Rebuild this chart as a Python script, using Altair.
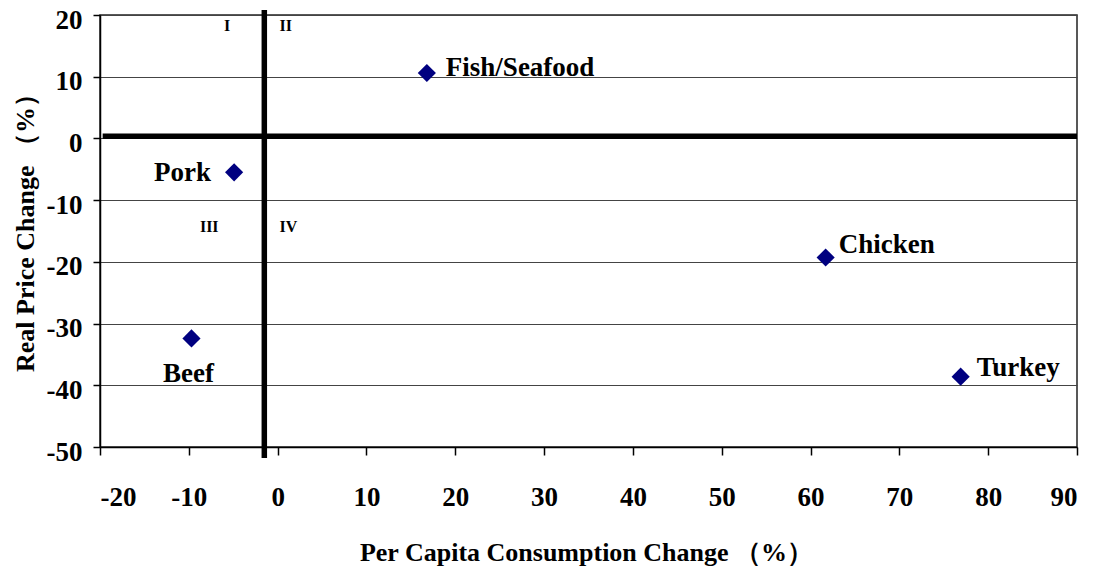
import altair as alt
import pandas as pd

# ---- data ----
foods = ["Fish/Seafood", "Pork", "Beef", "Chicken", "Turkey"]
consumption_change = [16.8, -4.9, -9.7, 61.7, 76.9]
price_change = [10.6, -5.5, -32.4, -19.3, -38.6]

quadrant_labels = ["I", "II", "III", "IV"]
quadrant_x = [-5.7, 0.9, -7.7, 1.2]
quadrant_y = [18.2, 18.2, -14.4, -14.4]

x_ticks = [-20, -10, 0, 10, 20, 30, 40, 50, 60, 70, 80, 90]
y_ticks = [-50, -40, -30, -20, -10, 0, 10, 20]

# dividing lines (drawn in the chart as thick black lines)
vline_x = [-1.5]
vline_y = [20.8]
vline_y2 = [-51.8]
hline_y = [0.35]
hline_x = [-19.7]
hline_x2 = [90]

FONT = "Liberation Serif"

df = pd.DataFrame({"food": foods, "x": consumption_change, "y": price_change})
qdf = pd.DataFrame({"q": quadrant_labels, "x": quadrant_x, "y": quadrant_y})
vdf = pd.DataFrame({"x": vline_x, "y": vline_y, "y2": vline_y2})
hdf = pd.DataFrame({"x": hline_x, "x2": hline_x2, "y": hline_y})

xscale = alt.Scale(domain=[-20, 90], nice=False, zero=False)
yscale = alt.Scale(domain=[-50, 20], nice=False, zero=False)

x_enc = alt.X(
    "x:Q",
    scale=xscale,
    axis=alt.Axis(
        values=x_ticks,
        labelExpr="datum.value + ''",
        grid=False,
        tickSize=8,
        labelPadding=29,
        title="Per Capita Consumption Change （%）",
        titleX=486,
        titleY=105,
        titleAlign="center",
        titleBaseline="middle",
    ),
)
y_enc = alt.Y(
    "y:Q",
    scale=yscale,
    axis=alt.Axis(
        values=y_ticks,
        labelExpr="datum.value + ''",
        grid=True,
        gridColor="#444444",
        gridWidth=1,
        tickSize=7,
        labelPadding=11,
        labelOffset=5,
        title="Real Price Change （%）",
        titleX=-75,
        titleY=211,
        titleAngle=270,
        titleAlign="center",
        titleBaseline="middle",
    ),
)

points = alt.Chart(df).mark_point(
    shape="diamond", filled=True, size=330, color="#000080", opacity=1
).encode(x=x_enc, y=y_enc)

label_style = {
    "Fish/Seafood": dict(align="left", dx=19, dy=-5),
    "Pork": dict(align="right", dx=-23, dy=1),
    "Beef": dict(align="center", dx=-3, dy=36),
    "Chicken": dict(align="left", dx=13, dy=-13),
    "Turkey": dict(align="left", dx=16, dy=-9),
}
label_layers = []
for name in foods:
    st = label_style[name]
    label_layers.append(
        alt.Chart(df)
        .transform_filter(alt.datum.food == name)
        .mark_text(
            font=FONT,
            fontWeight="bold",
            fontSize=27,
            color="black",
            baseline="middle",
            **st,
        )
        .encode(x=alt.X("x:Q", scale=xscale), y=alt.Y("y:Q", scale=yscale), text="food:N")
    )

quads = alt.Chart(qdf).mark_text(
    font=FONT, fontWeight="bold", fontSize=16, color="black", baseline="middle", align="center"
).encode(x=alt.X("x:Q", scale=xscale), y=alt.Y("y:Q", scale=yscale), text="q:N")

vline = alt.Chart(vdf).mark_rule(color="black", strokeWidth=5.5, clip=False, strokeCap="butt").encode(
    x=alt.X("x:Q", scale=xscale), y=alt.Y("y:Q", scale=yscale), y2="y2:Q"
)
hline = alt.Chart(hdf).mark_rule(color="black", strokeWidth=5.5, clip=False, strokeCap="butt").encode(
    x=alt.X("x:Q", scale=xscale), x2="x2:Q", y=alt.Y("y:Q", scale=yscale)
)

chart = (
    alt.layer(hline, vline, points, quads, *label_layers)
    .properties(
        width=977,
        height=432,
        autosize=alt.AutoSizeParams(type="none"),
        padding={"left": 100, "top": 15, "right": 22, "bottom": 122},
        background="white",
    )
    .configure_axis(
        labelFont=FONT,
        labelFontWeight="bold",
        labelFontSize=27,
        labelColor="black",
        titleFont=FONT,
        titleFontWeight="bold",
        titleFontSize=26,
        titleColor="black",
        domainColor="black",
        domainWidth=1.5,
        tickColor="black",
        tickWidth=1.5,
    )
    .configure_view(stroke="#222222", strokeWidth=1.5)
)

chart.save("out.html", embed_options={"renderer": "svg", "actions": False})
